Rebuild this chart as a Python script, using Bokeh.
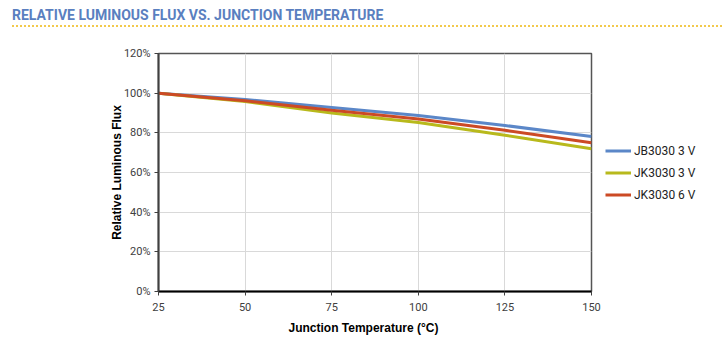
from bokeh.plotting import figure
from bokeh.layouts import column
from bokeh.models import (Legend, LegendItem, PrintfTickFormatter, FixedTicker, Range1d, Div,
                          Title)
from bokeh.embed import file_html
from bokeh.resources import INLINE

title_text = "RELATIVE LUMINOUS FLUX VS. JUNCTION TEMPERATURE"
x_label = "Junction Temperature (°C)"
y_label = "Relative Luminous Flux"

temps = [25, 50, 75, 100, 125, 150]
jb3030_3v = [100, 96.8, 92.8, 88.7, 83.7, 78.2]
jk3030_3v = [100, 95.8, 90.0, 85.2, 78.8, 72.0]
jk3030_6v = [100, 96.2, 91.4, 87.0, 81.3, 75.0]
series_names = ["JB3030 3 V", "JK3030 3 V", "JK3030 6 V"]
series_values = [jb3030_3v, jk3030_3v, jk3030_6v]
series_colors = ["#5b87c8", "#b8b91c", "#cc4a25"]

x_ticks = [25, 50, 75, 100, 125, 150]
y_ticks = [0, 20, 40, 60, 80, 100, 120]

W, H = 724, 350
DIV_H = 27
HEAD_TOTAL = 33

head = Div(text=title_text, width=W - 14, height=DIV_H,
           styles={"font-family": "Roboto", "font-weight": "bold", "font-size": "14px",
                   "color": "#5a7fc0", "margin-left": "12px", "margin-top": "0px",
                   "padding-top": "7px", "box-sizing": "border-box",
                   "border-bottom": "2px dotted #f2c94c", "line-height": "16px"})

p = figure(frame_width=591 - 158, frame_height=292 - 54,
           output_backend="svg", toolbar_location=None,
           x_range=Range1d(25, 150), y_range=Range1d(0, 120),
           min_border_left=158, min_border_right=W - 591 - 4,
           min_border_top=54 - HEAD_TOTAL, min_border_bottom=H - 292)
p.outline_line_color = "#555555"
p.outline_line_width = 1.5

p.xaxis.ticker = FixedTicker(ticks=x_ticks)
p.yaxis.ticker = FixedTicker(ticks=y_ticks)
p.yaxis.formatter = PrintfTickFormatter(format="%d%%")
for ax in (p.xaxis[0], p.yaxis[0]):
    ax.major_tick_in = 0
    ax.major_tick_out = 4
    ax.minor_tick_line_color = None
    ax.major_label_text_font = "Roboto"
    ax.major_label_text_font_size = "11px"
    ax.major_label_text_color = "#404040"
    ax.axis_label_text_font = "Liberation Sans"
    ax.axis_label_text_font_style = "bold"
    ax.axis_label_text_font_size = "12px"
    ax.axis_label_text_color = "#000000"
    ax.major_tick_line_color = "#404040"
p.xaxis.axis_line_color = "#000000"
p.xaxis.axis_line_width = 2
p.yaxis.axis_line_color = "#404040"
p.yaxis.axis_line_width = 2
p.yaxis.axis_label = y_label
p.yaxis.axis_label_standoff = -3
p.xaxis.major_label_standoff = 7
p.yaxis.major_label_standoff = 4

xt = Title(text=x_label, align="left", offset=288 - 158, standoff=10,
           text_font="Liberation Sans", text_font_style="bold", text_font_size="12px",
           text_color="#000000")
p.add_layout(xt, "below")

p.xgrid.grid_line_color = "#d9d9d9"
p.ygrid.grid_line_color = "#d9d9d9"

items = []
for name, vals, col in zip(series_names, series_values, series_colors):
    r = p.line(temps, vals, line_color=col, line_width=3)
    items.append(LegendItem(label=name, renderers=[r]))

legend = Legend(items=items, location="left", orientation="vertical",
                glyph_width=26, glyph_height=12, label_standoff=3, spacing=1,
                padding=0, margin=14, border_line_color=None,
                background_fill_alpha=0,
                label_text_font="Roboto", label_text_font_size="12px",
                label_text_color="#222222", label_height=21)
p.add_layout(legend, "right")

layout = column(head, p, spacing=0)
open("out.html", "w").write(file_html(layout, INLINE))
